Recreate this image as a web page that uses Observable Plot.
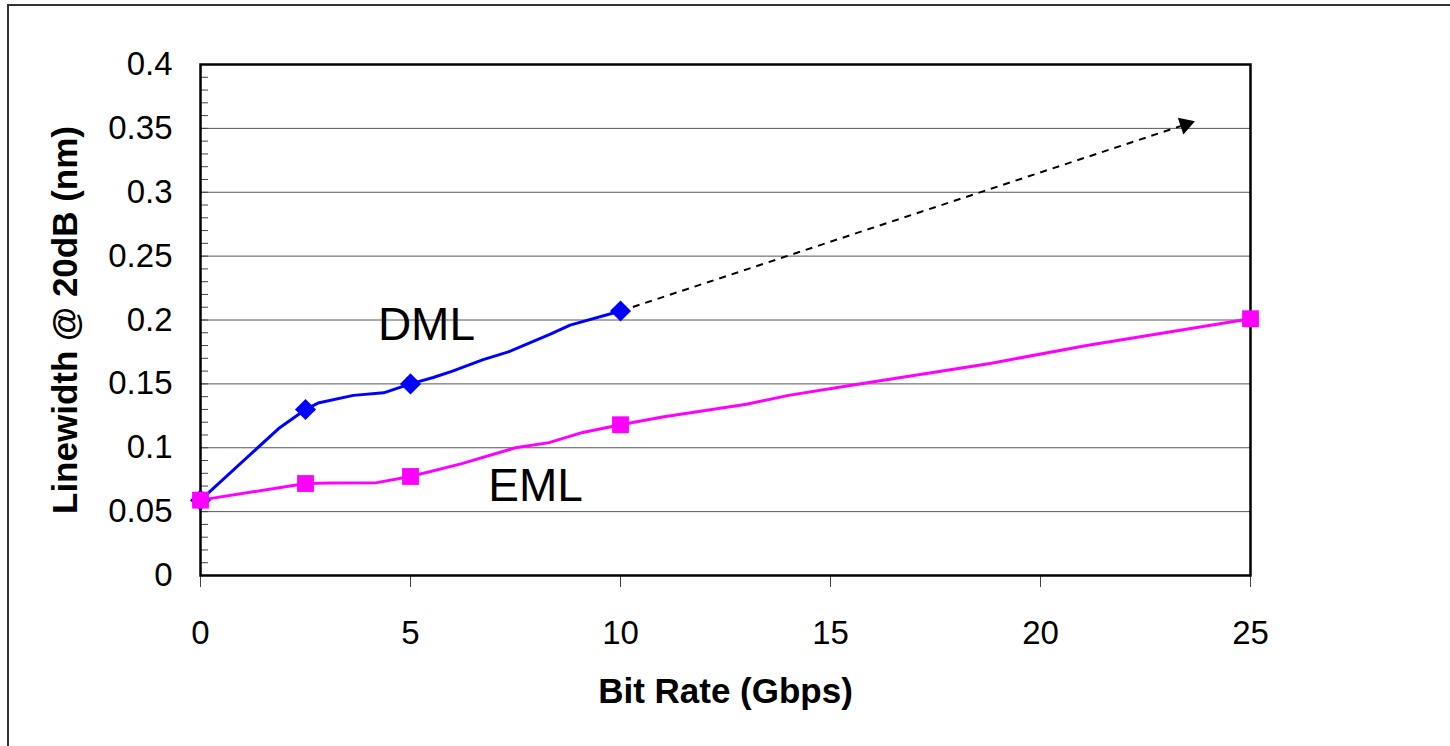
<!DOCTYPE html>
<html>
<head>
<meta charset="utf-8">
<script src="https://cdn.jsdelivr.net/npm/d3@7"></script>
<script src="https://cdn.jsdelivr.net/npm/@observablehq/plot@0.6"></script>
<style>
  html, body { margin: 0; padding: 0; background: #fff; overflow: hidden; }
  #page { position: relative; width: 1450px; height: 746px; background: #fff; }
  #chart { position: absolute; left: 0; top: 0; }
  #border { position: absolute; left: 7px; top: 4px; width: 3000px; height: 3000px;
            border-top: 2px solid #333; border-left: 2px solid #333; pointer-events: none; }
</style>
</head>
<body>
<div id="page"><div id="chart"></div><div id="border"></div></div>
<script>
// ---- Data ----
const xTicks = [0, 5, 10, 15, 20, 25];
const yTicks = [0, 0.05, 0.1, 0.15, 0.2, 0.25, 0.3, 0.35, 0.4];
const yTickLabels = ["0", "0.05", "0.1", "0.15", "0.2", "0.25", "0.3", "0.35", "0.4"];
const yMinorTicks = d3.range(0, 41).map(i => i / 100);

// DML (directly modulated laser) measured points (markers)
const dmlX = [0, 2.5, 5, 10];
const dmlY = [0.059, 0.130, 0.150, 0.207];
// DML drawn curve vertices
const dmlLineX = [0, 1.86, 2.5, 2.8, 3.64, 4.36, 5, 5.54, 6.0, 6.73, 7.33, 8.33, 8.8, 10];
const dmlLineY = [0.059, 0.115, 0.130, 0.135, 0.141, 0.143, 0.150, 0.155, 0.160, 0.169, 0.175, 0.189, 0.196, 0.207];

// EML (electro-absorption modulated laser) measured points (markers)
const emlX = [0, 2.5, 5, 10, 25];
const emlY = [0.059, 0.072, 0.0775, 0.118, 0.201];
// EML drawn curve vertices
const emlLineX = [0, 2.5, 3.1, 4.2, 5, 6.2, 7.5, 8.3, 9.1, 10, 11.0, 13.0, 14.0, 15.5, 18.8, 21.1, 25];
const emlLineY = [0.059, 0.072, 0.0725, 0.0727, 0.0775, 0.0874, 0.100, 0.104, 0.112, 0.118, 0.124, 0.134, 0.141, 0.149, 0.166, 0.180, 0.201];

// DML extrapolation arrow (start, end)
const trendX = [10, 23.45];
const trendY = [0.207, 0.353];

// Series labels
const seriesLabels = ["DML", "EML"];
const seriesLabelX = [5.38, 7.98];
const seriesLabelY = [0.196, 0.0696];

const xLabel = "Bit Rate (Gbps)";
const yLabel = "Linewidth @ 20dB (nm)";

// ---- Build tables ----
const zip = (xs, ys) => xs.map((x, i) => ({x, y: ys[i]}));
const dmlPts = zip(dmlX, dmlY), dmlLine = zip(dmlLineX, dmlLineY);
const emlPts = zip(emlX, emlY), emlLine = zip(emlLineX, emlLineY);
const labels = seriesLabels.map((t, i) => ({t, x: seriesLabelX[i], y: seriesLabelY[i]}));
const trend = [{x1: trendX[0], y1: trendY[0], x2: trendX[1], y2: trendY[1]}];

const W = 1450, H = 746;
const mL = 200, mR = 200, mT = 64, mB = 171;
// screen angle of trend arrow for arrowhead rotation
const pxPerX = (W - mL - mR) / 25, pxPerY = (H - mT - mB) / 0.4;
const ang = Math.atan2((trendY[1] - trendY[0]) * pxPerY, (trendX[1] - trendX[0]) * pxPerX) * 180 / Math.PI;

const FONT = "'Liberation Sans', Arial, Helvetica, sans-serif";

const chart = Plot.plot({
  width: W, height: H,
  marginLeft: mL, marginRight: mR, marginTop: mT, marginBottom: mB,
  style: {fontFamily: FONT, background: "transparent", color: "black"},
  x: {domain: [0, 25]},
  y: {domain: [0, 0.4]},
  marks: [
    Plot.gridY(yTicks.slice(1, -1), {stroke: "#555", strokeOpacity: 1, strokeWidth: 1}),
    // minor inward ticks on y
    Plot.axisY(yMinorTicks, {anchor: "left", tickSize: 8, dx: 8, text: null, stroke: "#444", strokeWidth: 1, label: null}),
    // y tick labels
    Plot.axisY(yTicks, {anchor: "left", tickSize: 0, tickPadding: 28, fontSize: 33,
      tickFormat: (d, i) => yTickLabels[i], label: null}),
    // x ticks and labels
    Plot.axisX(xTicks, {anchor: "bottom", tickSize: 12, tickPadding: 33, fontSize: 33,
      stroke: "#444", strokeWidth: 1, label: null}),
    Plot.frame({stroke: "black", strokeWidth: 2.5}),
    // dashed extrapolation
    Plot.link(trend, {x1: "x1", y1: "y1", x2: "x2", y2: "y2", stroke: "black", strokeWidth: 2, strokeDasharray: "7,6"}),
    Plot.dot(trend, {x: "x2", y: "y2", symbol: "triangle", r: 6.5, fill: "black", stroke: "none", rotate: 90 - ang}),
    // series lines
    Plot.line(dmlLine, {x: "x", y: "y", stroke: "#0000FF", strokeWidth: 3}),
    Plot.line(emlLine, {x: "x", y: "y", stroke: "#FF00FF", strokeWidth: 3}),
    Plot.dot(dmlPts, {x: "x", y: "y", symbol: "diamond2", r: 9.5, fill: "#0000FF", stroke: "none"}),
    Plot.dot(emlPts, {x: "x", y: "y", symbol: "square", r: 9.5, fill: "#FF00FF", stroke: "none"}),
    // series labels
    Plot.text(labels, {x: "x", y: "y", text: "t", fontSize: 46, fill: "black", textAnchor: "middle", lineAnchor: "middle"}),
    // axis titles
    Plot.text([xLabel], {frameAnchor: "bottom", dy: 116, fontSize: 35, fontWeight: "bold", textAnchor: "middle", lineAnchor: "middle"}),
    Plot.text([yLabel], {frameAnchor: "left", dx: -135, rotate: -90, fontSize: 35, fontWeight: "bold", textAnchor: "middle", lineAnchor: "middle"})
  ]
});
document.getElementById("chart").appendChild(chart);
</script>
</body>
</html>
